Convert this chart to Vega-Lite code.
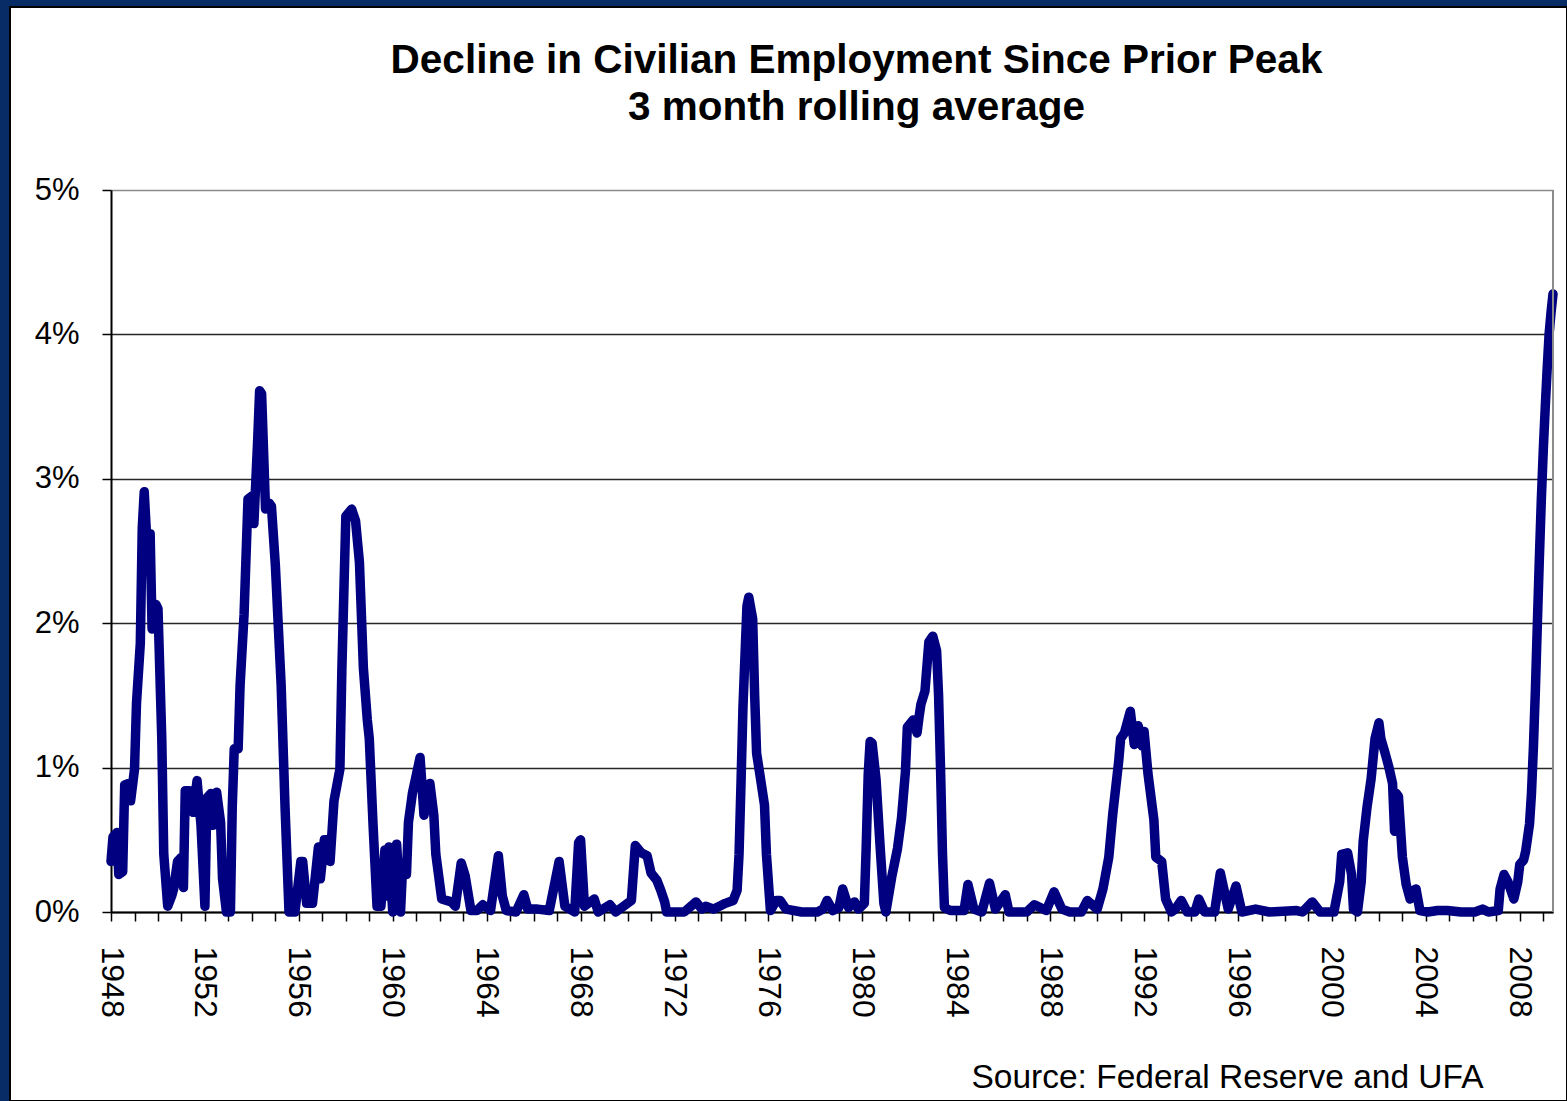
{
  "$schema": "https://vega.github.io/schema/vega-lite/v6.json",
  "width": 1557,
  "height": 1094,
  "autosize": "none",
  "padding": {"left": 10, "top": 7, "right": 0, "bottom": 0},
  "background": "#082D66",
  "config": {
    "font": "Liberation Sans",
    "view": {"fill": "white", "stroke": "black", "strokeWidth": 2}
  },
  "title": {
    "text": ["Decline in Civilian Employment Since Prior Peak", "3 month rolling average"],
    "fontSize": 40.5,
    "fontWeight": "bold",
    "color": "black",
    "lineHeight": 47,
    "anchor": "middle",
    "frame": "group",
    "dx": 68,
    "offset": -121
  },
  "data": {
    "values": [
      {"date": "1948-01-01", "decline": 0.35},
      {"date": "1948-02-01", "decline": 0.52},
      {"date": "1948-04-01", "decline": 0.55},
      {"date": "1948-05-01", "decline": 0.26},
      {"date": "1948-07-01", "decline": 0.28},
      {"date": "1948-08-01", "decline": 0.88},
      {"date": "1948-10-01", "decline": 0.89},
      {"date": "1948-11-01", "decline": 0.77},
      {"date": "1949-01-01", "decline": 0.99},
      {"date": "1949-02-01", "decline": 1.45},
      {"date": "1949-04-01", "decline": 1.86},
      {"date": "1949-05-01", "decline": 2.66},
      {"date": "1949-06-01", "decline": 2.91},
      {"date": "1949-08-01", "decline": 2.40},
      {"date": "1949-09-01", "decline": 2.62},
      {"date": "1949-10-01", "decline": 1.96},
      {"date": "1949-12-01", "decline": 2.13},
      {"date": "1950-01-01", "decline": 2.10},
      {"date": "1950-03-01", "decline": 1.20},
      {"date": "1950-04-01", "decline": 0.40},
      {"date": "1950-06-01", "decline": 0.04},
      {"date": "1950-08-01", "decline": 0.11},
      {"date": "1950-09-01", "decline": 0.16},
      {"date": "1950-11-01", "decline": 0.35},
      {"date": "1951-01-01", "decline": 0.38},
      {"date": "1951-02-01", "decline": 0.17},
      {"date": "1951-03-01", "decline": 0.84},
      {"date": "1951-05-01", "decline": 0.84},
      {"date": "1951-07-01", "decline": 0.69},
      {"date": "1951-09-01", "decline": 0.91},
      {"date": "1951-11-01", "decline": 0.60},
      {"date": "1952-01-01", "decline": 0.04},
      {"date": "1952-02-01", "decline": 0.79},
      {"date": "1952-04-01", "decline": 0.82},
      {"date": "1952-05-01", "decline": 0.60},
      {"date": "1952-07-01", "decline": 0.83},
      {"date": "1952-09-01", "decline": 0.62},
      {"date": "1952-10-01", "decline": 0.23},
      {"date": "1952-12-01", "decline": 0.00},
      {"date": "1953-02-01", "decline": 0.00},
      {"date": "1953-03-01", "decline": 0.72},
      {"date": "1953-04-01", "decline": 1.13},
      {"date": "1953-06-01", "decline": 1.13},
      {"date": "1953-07-01", "decline": 1.57},
      {"date": "1953-09-01", "decline": 2.06},
      {"date": "1953-11-01", "decline": 2.86},
      {"date": "1954-01-01", "decline": 2.88},
      {"date": "1954-02-01", "decline": 2.69},
      {"date": "1954-04-01", "decline": 3.27},
      {"date": "1954-05-01", "decline": 3.61},
      {"date": "1954-06-01", "decline": 3.59},
      {"date": "1954-08-01", "decline": 2.79},
      {"date": "1954-10-01", "decline": 2.83},
      {"date": "1954-11-01", "decline": 2.81},
      {"date": "1955-01-01", "decline": 2.40},
      {"date": "1955-04-01", "decline": 1.57},
      {"date": "1955-06-01", "decline": 0.72},
      {"date": "1955-08-01", "decline": 0.00},
      {"date": "1955-11-01", "decline": 0.00},
      {"date": "1956-02-01", "decline": 0.35},
      {"date": "1956-03-01", "decline": 0.35},
      {"date": "1956-05-01", "decline": 0.06},
      {"date": "1956-08-01", "decline": 0.06},
      {"date": "1956-11-01", "decline": 0.45},
      {"date": "1956-12-01", "decline": 0.23},
      {"date": "1957-02-01", "decline": 0.50},
      {"date": "1957-04-01", "decline": 0.50},
      {"date": "1957-05-01", "decline": 0.35},
      {"date": "1957-07-01", "decline": 0.77},
      {"date": "1957-10-01", "decline": 0.99},
      {"date": "1957-11-01", "decline": 1.69},
      {"date": "1958-01-01", "decline": 2.74},
      {"date": "1958-04-01", "decline": 2.79},
      {"date": "1958-06-01", "decline": 2.71},
      {"date": "1958-08-01", "decline": 2.42},
      {"date": "1958-10-01", "decline": 1.69},
      {"date": "1958-12-01", "decline": 1.33},
      {"date": "1959-01-01", "decline": 1.20},
      {"date": "1959-03-01", "decline": 0.60},
      {"date": "1959-05-01", "decline": 0.04},
      {"date": "1959-07-01", "decline": 0.04},
      {"date": "1959-09-01", "decline": 0.43},
      {"date": "1959-10-01", "decline": 0.11},
      {"date": "1959-11-01", "decline": 0.45},
      {"date": "1960-01-01", "decline": 0.00},
      {"date": "1960-03-01", "decline": 0.47},
      {"date": "1960-05-01", "decline": 0.00},
      {"date": "1960-06-01", "decline": 0.30},
      {"date": "1960-08-01", "decline": 0.26},
      {"date": "1960-09-01", "decline": 0.62},
      {"date": "1960-11-01", "decline": 0.82},
      {"date": "1961-03-01", "decline": 1.07},
      {"date": "1961-05-01", "decline": 0.67},
      {"date": "1961-08-01", "decline": 0.89},
      {"date": "1961-10-01", "decline": 0.67},
      {"date": "1961-11-01", "decline": 0.40},
      {"date": "1962-02-01", "decline": 0.09},
      {"date": "1962-07-01", "decline": 0.07},
      {"date": "1962-09-01", "decline": 0.04},
      {"date": "1962-12-01", "decline": 0.34},
      {"date": "1963-02-01", "decline": 0.25},
      {"date": "1963-05-01", "decline": 0.01},
      {"date": "1963-08-01", "decline": 0.01},
      {"date": "1963-11-01", "decline": 0.05},
      {"date": "1964-03-01", "decline": 0.01},
      {"date": "1964-07-01", "decline": 0.39},
      {"date": "1964-09-01", "decline": 0.11},
      {"date": "1964-11-01", "decline": 0.01},
      {"date": "1965-04-01", "decline": 0.00},
      {"date": "1965-08-01", "decline": 0.12},
      {"date": "1965-10-01", "decline": 0.02},
      {"date": "1966-03-01", "decline": 0.02},
      {"date": "1966-09-01", "decline": 0.01},
      {"date": "1967-02-01", "decline": 0.35},
      {"date": "1967-05-01", "decline": 0.04},
      {"date": "1967-10-01", "decline": 0.00},
      {"date": "1967-12-01", "decline": 0.48},
      {"date": "1968-01-01", "decline": 0.50},
      {"date": "1968-03-01", "decline": 0.04},
      {"date": "1968-08-01", "decline": 0.09},
      {"date": "1968-10-01", "decline": 0.00},
      {"date": "1969-04-01", "decline": 0.05},
      {"date": "1969-07-01", "decline": 0.00},
      {"date": "1969-12-01", "decline": 0.05},
      {"date": "1970-03-01", "decline": 0.08},
      {"date": "1970-05-01", "decline": 0.46},
      {"date": "1970-08-01", "decline": 0.41},
      {"date": "1970-11-01", "decline": 0.39},
      {"date": "1971-01-01", "decline": 0.27},
      {"date": "1971-04-01", "decline": 0.22},
      {"date": "1971-06-01", "decline": 0.15},
      {"date": "1971-08-01", "decline": 0.07},
      {"date": "1971-09-01", "decline": 0.00},
      {"date": "1972-06-01", "decline": 0.00},
      {"date": "1972-12-01", "decline": 0.07},
      {"date": "1973-03-01", "decline": 0.02},
      {"date": "1973-05-01", "decline": 0.04},
      {"date": "1973-09-01", "decline": 0.02},
      {"date": "1973-12-01", "decline": 0.04},
      {"date": "1974-03-01", "decline": 0.06},
      {"date": "1974-07-01", "decline": 0.08},
      {"date": "1974-09-01", "decline": 0.15},
      {"date": "1974-10-01", "decline": 0.40},
      {"date": "1974-11-01", "decline": 0.90},
      {"date": "1974-12-01", "decline": 1.42},
      {"date": "1975-02-01", "decline": 2.12},
      {"date": "1975-03-01", "decline": 2.18},
      {"date": "1975-05-01", "decline": 2.03},
      {"date": "1975-06-01", "decline": 1.50},
      {"date": "1975-07-01", "decline": 1.10},
      {"date": "1975-09-01", "decline": 0.92},
      {"date": "1975-11-01", "decline": 0.74},
      {"date": "1975-12-01", "decline": 0.40},
      {"date": "1976-02-01", "decline": 0.01},
      {"date": "1976-05-01", "decline": 0.08},
      {"date": "1976-07-01", "decline": 0.08},
      {"date": "1976-10-01", "decline": 0.02},
      {"date": "1977-06-01", "decline": 0.00},
      {"date": "1978-02-01", "decline": 0.00},
      {"date": "1978-05-01", "decline": 0.02},
      {"date": "1978-07-01", "decline": 0.08},
      {"date": "1978-10-01", "decline": 0.01},
      {"date": "1979-01-01", "decline": 0.03},
      {"date": "1979-03-01", "decline": 0.16},
      {"date": "1979-06-01", "decline": 0.03},
      {"date": "1979-09-01", "decline": 0.07},
      {"date": "1979-11-01", "decline": 0.02},
      {"date": "1980-02-01", "decline": 0.06},
      {"date": "1980-03-01", "decline": 0.45},
      {"date": "1980-04-01", "decline": 0.95},
      {"date": "1980-05-01", "decline": 1.18},
      {"date": "1980-06-01", "decline": 1.17},
      {"date": "1980-08-01", "decline": 0.92},
      {"date": "1980-10-01", "decline": 0.47},
      {"date": "1980-12-01", "decline": 0.06},
      {"date": "1981-01-01", "decline": 0.00},
      {"date": "1981-04-01", "decline": 0.24},
      {"date": "1981-07-01", "decline": 0.44},
      {"date": "1981-09-01", "decline": 0.65},
      {"date": "1981-11-01", "decline": 0.97},
      {"date": "1981-12-01", "decline": 1.28},
      {"date": "1982-03-01", "decline": 1.33},
      {"date": "1982-05-01", "decline": 1.24},
      {"date": "1982-06-01", "decline": 1.35},
      {"date": "1982-07-01", "decline": 1.44},
      {"date": "1982-09-01", "decline": 1.53},
      {"date": "1982-11-01", "decline": 1.87},
      {"date": "1983-01-01", "decline": 1.91},
      {"date": "1983-03-01", "decline": 1.81},
      {"date": "1983-04-01", "decline": 1.50},
      {"date": "1983-05-01", "decline": 1.00},
      {"date": "1983-06-01", "decline": 0.40},
      {"date": "1983-07-01", "decline": 0.03},
      {"date": "1983-10-01", "decline": 0.01},
      {"date": "1984-05-01", "decline": 0.01},
      {"date": "1984-07-01", "decline": 0.19},
      {"date": "1984-10-01", "decline": 0.02},
      {"date": "1985-02-01", "decline": 0.00},
      {"date": "1985-06-01", "decline": 0.20},
      {"date": "1985-09-01", "decline": 0.02},
      {"date": "1986-02-01", "decline": 0.12},
      {"date": "1986-04-01", "decline": 0.00},
      {"date": "1987-01-01", "decline": 0.00},
      {"date": "1987-05-01", "decline": 0.05},
      {"date": "1987-11-01", "decline": 0.01},
      {"date": "1988-03-01", "decline": 0.14},
      {"date": "1988-07-01", "decline": 0.02},
      {"date": "1988-11-01", "decline": 0.00},
      {"date": "1989-05-01", "decline": 0.00},
      {"date": "1989-08-01", "decline": 0.08},
      {"date": "1990-01-01", "decline": 0.02},
      {"date": "1990-04-01", "decline": 0.16},
      {"date": "1990-07-01", "decline": 0.38},
      {"date": "1990-09-01", "decline": 0.68},
      {"date": "1990-12-01", "decline": 1.04},
      {"date": "1991-01-01", "decline": 1.20},
      {"date": "1991-03-01", "decline": 1.24},
      {"date": "1991-06-01", "decline": 1.39},
      {"date": "1991-08-01", "decline": 1.16},
      {"date": "1991-10-01", "decline": 1.29},
      {"date": "1991-12-01", "decline": 1.15},
      {"date": "1992-01-01", "decline": 1.25},
      {"date": "1992-03-01", "decline": 0.96},
      {"date": "1992-06-01", "decline": 0.64},
      {"date": "1992-07-01", "decline": 0.38},
      {"date": "1992-10-01", "decline": 0.35},
      {"date": "1992-12-01", "decline": 0.09},
      {"date": "1993-03-01", "decline": 0.00},
      {"date": "1993-05-01", "decline": 0.02},
      {"date": "1993-08-01", "decline": 0.08},
      {"date": "1993-11-01", "decline": 0.00},
      {"date": "1994-03-01", "decline": 0.00},
      {"date": "1994-05-01", "decline": 0.09},
      {"date": "1994-08-01", "decline": 0.00},
      {"date": "1995-01-01", "decline": 0.00},
      {"date": "1995-04-01", "decline": 0.27},
      {"date": "1995-08-01", "decline": 0.02},
      {"date": "1995-12-01", "decline": 0.18},
      {"date": "1996-03-01", "decline": 0.00},
      {"date": "1996-10-01", "decline": 0.02},
      {"date": "1997-05-01", "decline": 0.00},
      {"date": "1998-07-01", "decline": 0.01},
      {"date": "1998-10-01", "decline": 0.00},
      {"date": "1999-03-01", "decline": 0.07},
      {"date": "1999-07-01", "decline": 0.00},
      {"date": "2000-02-01", "decline": 0.00},
      {"date": "2000-05-01", "decline": 0.21},
      {"date": "2000-06-01", "decline": 0.40},
      {"date": "2000-09-01", "decline": 0.41},
      {"date": "2000-11-01", "decline": 0.26},
      {"date": "2000-12-01", "decline": 0.02},
      {"date": "2001-02-01", "decline": 0.00},
      {"date": "2001-04-01", "decline": 0.21},
      {"date": "2001-05-01", "decline": 0.49},
      {"date": "2001-07-01", "decline": 0.73},
      {"date": "2001-09-01", "decline": 0.92},
      {"date": "2001-11-01", "decline": 1.20},
      {"date": "2002-01-01", "decline": 1.31},
      {"date": "2002-02-01", "decline": 1.20},
      {"date": "2002-04-01", "decline": 1.11},
      {"date": "2002-06-01", "decline": 1.01},
      {"date": "2002-08-01", "decline": 0.89},
      {"date": "2002-09-01", "decline": 0.56},
      {"date": "2002-10-01", "decline": 0.82},
      {"date": "2002-11-01", "decline": 0.80},
      {"date": "2003-01-01", "decline": 0.38},
      {"date": "2003-03-01", "decline": 0.19},
      {"date": "2003-05-01", "decline": 0.09},
      {"date": "2003-07-01", "decline": 0.15},
      {"date": "2003-08-01", "decline": 0.16},
      {"date": "2003-10-01", "decline": 0.01},
      {"date": "2004-02-01", "decline": 0.00},
      {"date": "2004-07-01", "decline": 0.01},
      {"date": "2004-12-01", "decline": 0.01},
      {"date": "2005-07-01", "decline": 0.00},
      {"date": "2006-02-01", "decline": 0.00},
      {"date": "2006-06-01", "decline": 0.02},
      {"date": "2006-09-01", "decline": 0.00},
      {"date": "2007-02-01", "decline": 0.01},
      {"date": "2007-03-01", "decline": 0.16},
      {"date": "2007-05-01", "decline": 0.26},
      {"date": "2007-07-01", "decline": 0.21},
      {"date": "2007-10-01", "decline": 0.09},
      {"date": "2007-12-01", "decline": 0.21},
      {"date": "2008-01-01", "decline": 0.33},
      {"date": "2008-03-01", "decline": 0.36},
      {"date": "2008-04-01", "decline": 0.42},
      {"date": "2008-06-01", "decline": 0.61},
      {"date": "2008-07-01", "decline": 0.82},
      {"date": "2008-08-01", "decline": 1.15},
      {"date": "2008-09-01", "decline": 1.55},
      {"date": "2008-10-01", "decline": 2.00},
      {"date": "2008-11-01", "decline": 2.45},
      {"date": "2008-12-01", "decline": 2.85},
      {"date": "2009-01-01", "decline": 3.20},
      {"date": "2009-02-01", "decline": 3.50},
      {"date": "2009-03-01", "decline": 3.75},
      {"date": "2009-04-01", "decline": 4.00},
      {"date": "2009-05-01", "decline": 4.15},
      {"date": "2009-06-01", "decline": 4.28}
    ]
  },
  "layer": [
    {
      "mark": {
        "type": "line",
        "color": "#000080",
        "strokeWidth": 9.5,
        "strokeJoin": "round",
        "strokeCap": "round",
        "clip": false
      },
      "encoding": {
        "x": {
          "field": "date",
          "type": "temporal",
          "scale": {
            "type": "utc",
            "domain": [
              {"year": 1948, "month": 1, "date": 1, "utc": true},
              {"year": 2009, "month": 6, "date": 1, "utc": true}
            ],
            "range": [101, 1543]
          },
          "axis": {
            "orient": "bottom",
            "offset": -189,
            "grid": false,
            "domain": true,
            "domainColor": "black",
            "domainWidth": 2,
            "ticks": true,
            "tickCount": {"interval": "year", "step": 1},
            "tickSize": 9,
            "tickColor": "black",
            "tickWidth": 1.5,
            "labelExpr": "utcyear(datum.value) % 4 === 0 ? utcFormat(datum.value, '%Y') : ''",
            "labelAngle": 90,
            "labelAlign": "left",
            "labelBaseline": "middle",
            "labelPadding": 25,
            "labelFontSize": 32,
            "labelColor": "black",
            "labelOverlap": false,
            "labelFlush": false,
            "labelBound": false,
            "title": "Source: Federal Reserve and UFA",
            "titleFontSize": 33.5,
            "titleFontWeight": "normal",
            "titleColor": "black",
            "titleAlign": "right",
            "titleBaseline": "alphabetic",
            "titleX": 1473,
            "titleY": 175
          }
        },
        "y": {
          "field": "decline",
          "type": "quantitative",
          "scale": {"domain": [0, 5], "range": [905, 183], "nice": false, "zero": true},
          "axis": {
            "orient": "left",
            "offset": -101,
            "values": [0, 1, 2, 3, 4, 5],
            "grid": true,
            "gridColor": {"condition": {"test": "datum.value === 5", "value": "#8C8C8C"}, "value": "#262626"},
            "gridWidth": 1.6,
            "domain": true,
            "domainColor": "black",
            "domainWidth": 2,
            "ticks": true,
            "tickSize": 9,
            "tickColor": "black",
            "tickWidth": 1.5,
            "labelExpr": "datum.value + '%'",
            "labelFontSize": 31,
            "labelColor": "black",
            "labelPadding": 23,
            "title": null
          }
        }
      }
    },
    {
      "mark": {"type": "rule", "color": "#8C8C8C", "strokeWidth": 2},
      "encoding": {
        "x": {"datum": {"year": 2009, "month": 6, "date": 1, "utc": true}, "type": "temporal"},
        "y": {"datum": 0},
        "y2": {"datum": 5}
      }
    }
  ]
}
